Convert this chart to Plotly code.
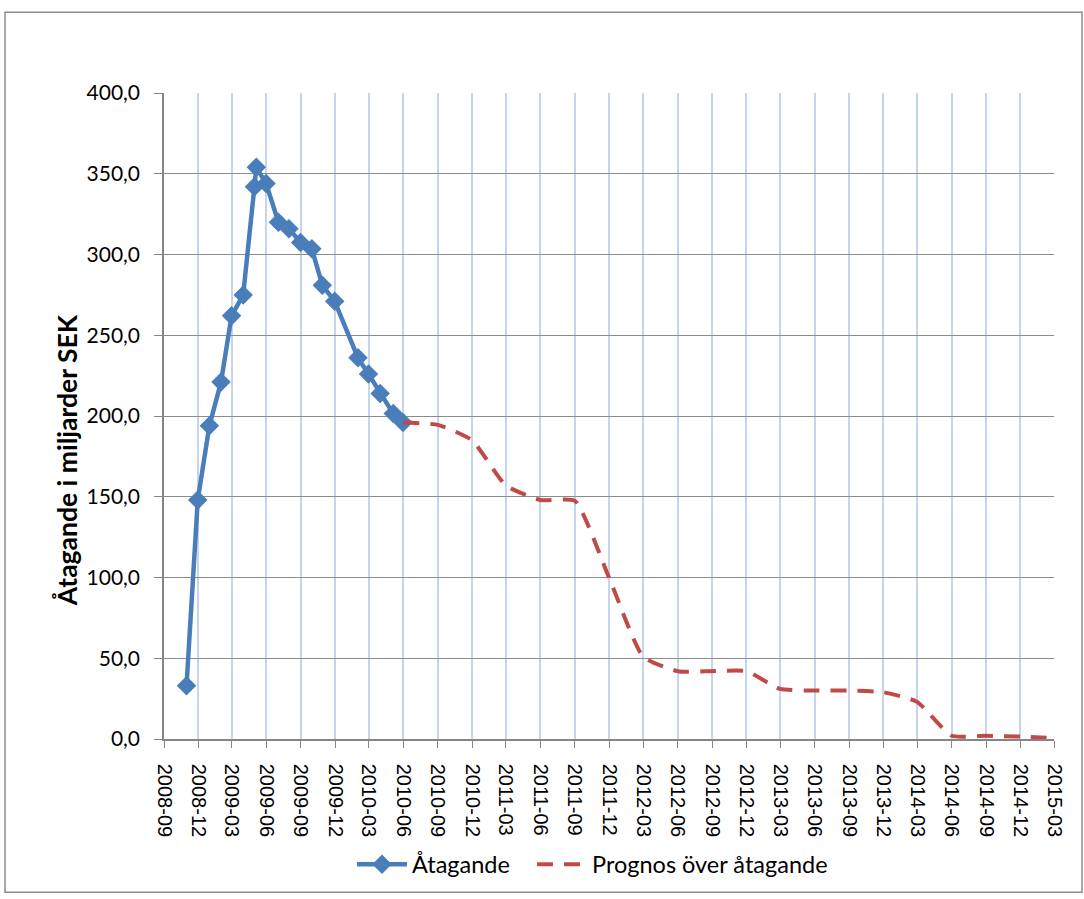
import plotly.graph_objects as go

# --- data ---
actual_dates = ["2008-10-31", "2008-11-30", "2008-12-31", "2009-01-31", "2009-02-28",
                "2009-03-31", "2009-04-30", "2009-05-05", "2009-05-31", "2009-07-03",
                "2009-07-31", "2009-08-31", "2009-09-30", "2009-10-28", "2009-11-30",
                "2010-01-31", "2010-02-28", "2010-03-31", "2010-05-05", "2010-05-31"]
actual_values = [33.0, 148.0, 194.0, 221.0, 262.0,
                 275.0, 342.0, 354.0, 344.0, 320.0,
                 316.0, 307.5, 303.5, 281.0, 271.0,
                 236.0, 226.0, 214.0, 201.5, 196.0]

forecast_dates = ["2010-05-31", "2010-09-01", "2010-12-01", "2011-03-01", "2011-06-01",
                  "2011-09-01", "2011-12-01", "2012-03-01", "2012-06-01", "2012-09-01",
                  "2012-12-01", "2013-03-01", "2013-06-01", "2013-09-01", "2013-12-01",
                  "2014-03-01", "2014-06-01", "2014-09-01", "2014-12-01", "2015-03-01"]
forecast_values = [196.0, 194.5, 185.0, 157.0, 148.0,
                   147.5, 100.0, 51.0, 42.0, 42.0,
                   42.0, 31.0, 30.0, 30.0, 29.0,
                   23.0, 2.0, 2.0, 1.5, 0.5]

series_names = ["Åtagande", "Prognos över åtagande"]
y_title = "Åtagande i miljarder SEK"

W, H = 1084, 899
L, R, T, B = 164, 30, 93, 157
pw, ph = W - L - R, H - T - B

fig = go.Figure()
fig.add_trace(go.Scatter(
    x=actual_dates, y=actual_values, name=series_names[0],
    mode="lines+markers",
    line=dict(color="#4a7ebb", width=4.5),
    marker=dict(symbol="diamond", size=15, color="#4a7ebb"),
    legend="legend",
))
fig.add_trace(go.Scatter(
    x=forecast_dates, y=forecast_values, name=series_names[1],
    mode="lines",
    line=dict(color="#be4b48", width=4, dash="16px,11px", shape="spline", smoothing=0.5),
    legend="legend2",
))

def px_x(x):
    return (x - L) / pw

def px_y(y):
    return (H - B - y) / ph

fig.add_shape(type="rect", xref="paper", yref="paper",
              x0=px_x(5), x1=px_x(1082), y0=px_y(896), y1=px_y(12),
              line=dict(color="#8c8c8c", width=1.5), fillcolor="rgba(0,0,0,0)", layer="below")

fig.add_annotation(text=y_title, xref="paper", yref="paper",
                   x=px_x(67), y=px_y(462), xanchor="center", yanchor="middle",
                   textangle=-90, showarrow=False,
                   font=dict(family="Lato", size=26.5, color="#000000", weight="bold"))

legend_font = dict(family="Lato", size=23.5, color="#000000")

fig.update_layout(
    width=W, height=H,
    margin=dict(l=L, r=R, t=T, b=B),
    paper_bgcolor="white", plot_bgcolor="white",
    separators=", ",
    showlegend=True,
    legend=dict(orientation="h", x=px_x(352), xanchor="left", y=px_y(868), yanchor="middle",
                font=legend_font, itemwidth=50),
    legend2=dict(orientation="h", x=px_x(532), xanchor="left", y=px_y(868), yanchor="middle",
                 font=legend_font, itemwidth=50),
    xaxis=dict(
        type="date",
        range=["2008-09-01", "2015-03-01"],
        tick0="2008-09-01", dtick="M3", tickformat="%Y-%m",
        tickangle=90,
        tickfont=dict(family="Liberation Sans", size=20, color="#000000"),
        ticklabelstandoff=12,
        showgrid=True, gridcolor="#c6d5ee", gridwidth=2,
        showline=True, linecolor="#868686", linewidth=1.5,
        ticks="outside", ticklen=7, tickcolor="#868686",
        zeroline=False,
    ),
    yaxis=dict(
        range=[0, 400], dtick=50, tickformat=".1f",
        tickfont=dict(family="Lato", size=21, color="#000000"),
        ticklabelstandoff=10,
        showgrid=True, gridcolor="#8c8c8c", gridwidth=1.2,
        showline=True, linecolor="#868686", linewidth=1.5,
        ticks="outside", ticklen=8, tickcolor="#868686",
        zeroline=False,
    ),
)

fig.write_html("out.html", config={"displayModeBar": False},
               post_script="document.body.style.margin='0';")
